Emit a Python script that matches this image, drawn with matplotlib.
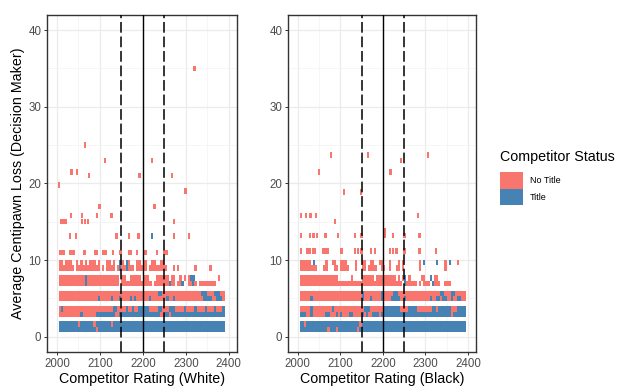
import matplotlib
matplotlib.use('Agg')
import matplotlib.pyplot as plt

from matplotlib.patches import Patch

plt.rcParams['font.family'] = ['Liberation Sans', 'DejaVu Sans']

NO_TITLE = '#F8766D'
TITLE = '#4682B4'
STATUS = {'n': NO_TITLE, 't': TITLE}

# rating bins: 5 points wide starting at 2005, one char per bin ('.' = empty)
BIN_START = 2005
BIN_WIDTH = 5
band_centres = [1.27, 3.27, 5.3, 7.3, 9.3]

# (lower half, upper half) of each band, White games
white_bands = [
  ("tttttttttt" "tttttttntt" "tttttttttt" "tttttttttt" "tttttttttt" "tttttttttt" "tttttttttt" "ttttttt.",
   "tttttttttn" "ttttttnttt" "ttttnttttt" "tttttttttt" "tttttttttt" "tttttttttt" "tttttttttt" "ttttttt."),
  ("nnnnnnnnnn" "tnnnnnnttt" "ttttttnntt" "tttttttttt" "tttttttnnt" "tntttttttt" "tttttttttt" "ttttttt.",
   "ntnnnnnnnn" "nnnnnnnnnn" "nnnnnttnnn" "ntnntnnttt" "ttnnnnttnn" "ntttnnnntn" "nnntnnnntn" "nntnnnt."),
  ("nnnnnnnnnn" "nnnnnnnntn" "nnnntnnntn" "nnntntnnnn" "nntnnnnnnn" "tnntnnnnnn" "nnnnnnnttt" "tnntttn.",
   "nnnnnnnnnn" "nnnnnnnnnn" "nnnnnnnnnn" "nnnnnnnnnn" "nnnnnnttnn" "nnnnnnnnnn" "nnnnnntttn" "nntttnn."),
  ("nnnnnnnnnn" "nntnnnnnnn" "nnnnnnnn.n" "nnnnnnnnnn" "nnn.nnnnnn" "ntnn.nnt.." "nntn.nnnnn" "nnn.....",
   "nnnnnnnnnn" "nntnnnnnnn" "nnnnnnnn.n" "n..nnnnn.n" "nn...nnnnn" "n.nn..n.n." "ntt......." "....n..."),
  ("nnnnnnn.nn" "nnnnnnnnn." "n.nnnn.ntn" "ntnnn.nnnn" "n.nnnnnnnn" "...n.n...." "...n......" "n.......",
   "nn.nnn..n." "n.n.nnn.n." "..nn.n..tn" ".tn...nn.n" "n..nn..nn." ".........." ".........." "........"),
]

# Black games
black_bands = [
  ("tttttttttt" "tttntttntt" "tttttttntt" "tttttttttt" "tttttttttt" "tttttttttt" "tttttttttt" "tttttttt",
   "ttnttttttt" "tttttttttt" "ttttttttnt" "tttttttttt" "tttttttttt" "tttttttttt" "tttttttttt" "tttttttt"),
  ("tttnntnnnn" "nnttnnntnt" "nnnttnnnnt" "ntnntttntt" "tttttttttt" "tttttttttt" "tttttttttt" "tntttttt",
   "nnnnntnnnn" "nnnnntnnnn" "nnnnnnnnnn" "tttnnnnnnt" "tttttttnnn" "nttttnnnnn" "nnttnttttt" "tnnntttt"),
  ("nnnnntnnnn" "nnnnnnnnnn" "nnnnnnnnnt" "nnntnnnntn" "nnnttttnnt" "nnnnnnnnnn" "ntnnttnttn" "ntnnttnn",
   "nnnnnnnnnn" "nnnnnnnnnn" "nnnnnnnnnt" "nnnnnnnntn" "nnnnttnnnn" "nnnnnnnnnn" "nnnnnnttnn" "nttnnnnn"),
  ("nnnnnnnnnn" "nnnnnnnnnn" "nnnnnnnnnn" "nnnnnnnnnn" "nnnnnnnn.t" "nnnnn.n.nn" "n.tnnn..nn" "n.......",
   "nnnnnnnnnn" "nnnnnnnn.." "....n....n" "nnnnn.nnnn" "nnnnn.n.nt" ".n.....nn." ".t.nn....." "........"),
  ("nnnnnnnn.." ".nn...nn.n" "nnn...n..n" "n.nnnn..nn" "..n..nn.n." "......n..." "........n." "........",
   "nnnnn.t..." "..n..nn..n" "nn....n..n" "n..nn..nn." "..n...n.n." "......n.t." "....t...n." "t...n..."),
]

# scattered high-loss games
white_rating = [2007, 2012, 2017, 2030, 2035, 2040, 2064, 2088, 2093, 2107, 2113, 2131, 2148, 2169,
                2173, 2186, 2204, 2208, 2233, 2250, 2255,
                2031, 2044, 2139, 2167, 2190, 2221, 2272, 2307,
                2010, 2015, 2020, 2058, 2066, 2072, 2272,
                2033, 2058, 2093, 2127,
                2099, 2227, 2299, 2005, 2074, 2192, 2268, 2034, 2046, 2112, 2221, 2066, 2320]
white_loss = [11.0] * 21 + [13.1] * 8 + [15.0] * 7 + [15.8] * 4 + \
             [17.0, 17.0, 19.0, 19.8, 21.0, 21.0, 21.0, 21.5, 21.5, 23.0, 23.0, 25.0, 35.0]
white_status = 'n' * 26 + 't' + 'n' * 26

black_rating = [2008, 2023, 2029, 2036, 2041, 2059, 2065, 2071, 2103, 2134, 2141, 2150, 2173, 2181,
                2216, 2223, 2232, 2251, 2286, 2325,
                2008, 2029, 2037, 2045, 2065, 2095, 2134, 2150, 2204, 2224, 2251, 2286,
                2204, 2087,
                2008, 2020, 2030, 2042, 2282,
                2108, 2148, 2050, 2218, 2243, 2078, 2165, 2306]
black_loss = [11.2] * 20 + [13.2] * 12 + [13.8, 15.0] + [15.8] * 5 + \
             [18.9, 18.9, 21.5, 21.5, 23.0, 23.7, 23.7, 23.7]
black_status = 'n' * len(black_rating)

cutoffs = [2150, 2250]
mid_rating = 2200


def band_tiles(bands):
  xs, ys, cs = [], [], []
  for (lower, upper), centre in zip(bands, band_centres):
    for row, y in ((lower, centre - 0.35), (upper, centre + 0.35)):
      for i, ch in enumerate(row):
        if ch in STATUS:
          xs.append(BIN_START + BIN_WIDTH * (i + 0.5))
          ys.append(y)
          cs.append(STATUS[ch])
  return xs, ys, cs


def style_axes(ax):
  ax.set_xlim(1977, 2419)
  ax.set_ylim(-2, 42)
  ax.set_xticks([2000, 2100, 2200, 2300, 2400])
  ax.set_xticks([2050, 2150, 2250, 2350], minor=True)
  ax.set_yticks([0, 10, 20, 30, 40])
  ax.set_yticks([5, 15, 25, 35], minor=True)
  ax.grid(which='major', color='#EBEBEB', linewidth=0.9, zorder=0)
  ax.grid(which='minor', color='#F3F3F3', linewidth=0.5, zorder=0)
  ax.set_axisbelow(True)
  ax.tick_params(which='major', length=2.5, width=0.7, color='#333333',
                 labelsize=8.3, labelcolor='#4D4D4D', pad=1.5)
  ax.tick_params(which='minor', length=0)
  for spine in ax.spines.values():
    spine.set_color('#333333')
    spine.set_linewidth(1.0)


def plot_panel(ax, bands, ratings, losses, status, label):
  xs, ys, cs = band_tiles(bands)
  xs += ratings
  ys += losses
  cs += [STATUS[s] for s in status]
  ax.bar(xs, 0.72, width=BIN_WIDTH + 0.3, bottom=[y - 0.36 for y in ys],
         color=cs, linewidth=0, zorder=2)
  for x in cutoffs:
    ax.axvline(x, color='black', linewidth=1.1, dashes=(7, 2.5), zorder=3)
  ax.axvline(mid_rating, color='black', linewidth=1.0, zorder=3)
  style_axes(ax)
  ax.set_xlabel(label, fontsize=10.3, labelpad=2)


def main():
  fig = plt.figure(figsize=(6.17, 3.88), dpi=100)
  ax_w = fig.add_axes([47 / 617, 1 - 352 / 388, 190 / 617, (352 - 14.7) / 388])
  ax_b = fig.add_axes([288 / 617, 1 - 352 / 388, 188 / 617, (352 - 14.7) / 388])

  plot_panel(ax_w, white_bands, white_rating, white_loss, white_status,
             'Competitor Rating (White)')
  plot_panel(ax_b, black_bands, black_rating, black_loss, black_status,
             'Competitor Rating (Black)')

  fig.text(18 / 617, 1 - 183 / 388, 'Average Centipawn Loss (Decision Maker)',
           rotation=90, ha='center', va='center', fontsize=10.3)

  fig.text(500 / 617, 1 - 157 / 388, 'Competitor Status', ha='left', va='center',
           fontsize=10.3)
  handles = [Patch(facecolor=NO_TITLE, linewidth=0), Patch(facecolor=TITLE, linewidth=0)]
  fig.legend(handles, ['No Title', 'Title'], loc='upper left',
             bbox_to_anchor=(500 / 617, 1 - 172 / 388), frameon=False, fontsize=6.5,
             borderpad=0, borderaxespad=0, labelspacing=0, handlelength=2.55,
             handleheight=2.45, handletextpad=0.8)

  fig.savefig('out.png', dpi=100)
  plt.close(fig)


if __name__ == '__main__':
  main()
